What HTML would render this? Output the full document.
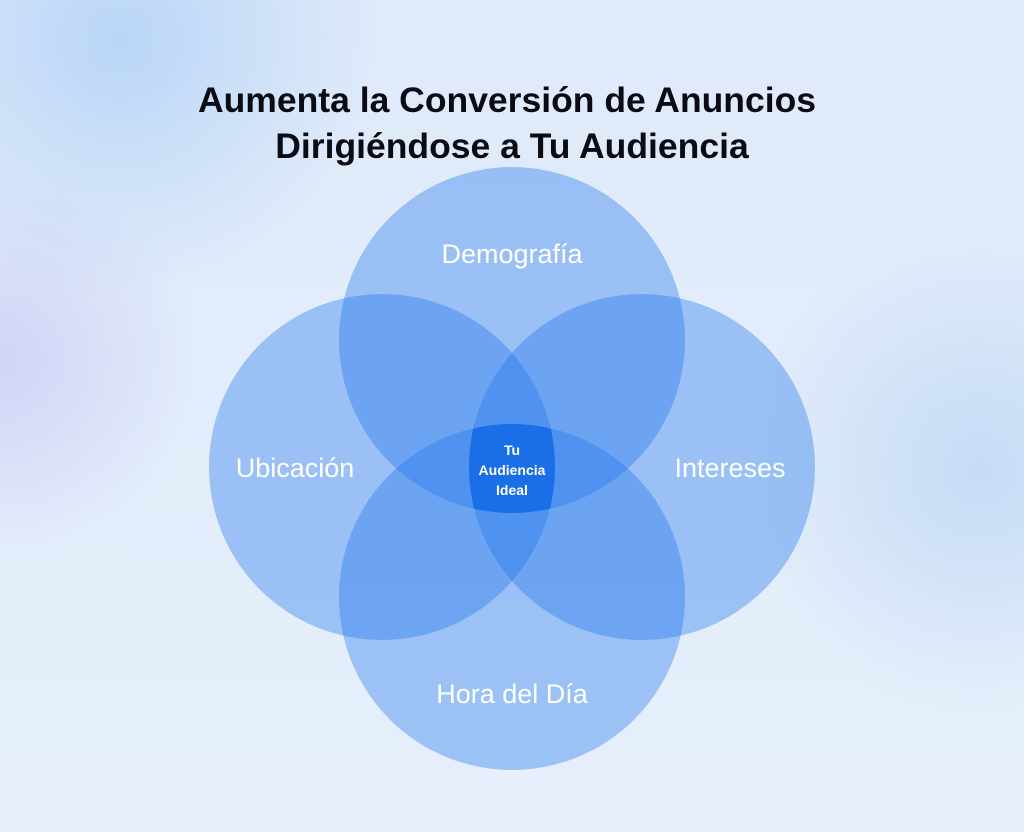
<!DOCTYPE html>
<html><head><meta charset="utf-8"><style>
html,body{margin:0;padding:0;}
body{width:1024px;height:832px;overflow:hidden;background:#e3edfa;position:relative;font-family:"Liberation Sans",sans-serif;}
.bg{position:absolute;inset:0;background:
radial-gradient(circle at 120px 40px,rgba(170,205,245,0.7),rgba(170,205,245,0) 260px),
radial-gradient(circle at 0px 360px,rgba(205,205,245,0.8),rgba(205,205,245,0) 200px),
radial-gradient(circle at 980px 470px,rgba(190,215,245,0.8),rgba(190,215,245,0) 240px),
linear-gradient(180deg,#dfeafa,#e6effb);}
svg{position:absolute;left:0;top:0;}
</style></head><body><div class="bg"></div>
<svg width="1024" height="832" viewBox="0 0 1024 832">
<defs>
<clipPath id="ct"><circle cx="512" cy="340" r="173"/></clipPath>
<clipPath id="cb"><circle cx="512" cy="597" r="173"/></clipPath>
<clipPath id="cl"><circle cx="382" cy="467" r="173"/></clipPath>
</defs>
<text x="507" y="112" text-anchor="middle" font-family="Liberation Sans" font-weight="bold" font-size="35.5" fill="#0b0b14">Aumenta la Conversión de Anuncios</text>
<text x="512" y="158" text-anchor="middle" font-family="Liberation Sans" font-weight="bold" font-size="35.5" fill="#0b0b14">Dirigiéndose a Tu Audiencia</text>
<g fill="rgb(30,118,236)" fill-opacity="0.37">
<circle cx="512" cy="340" r="173"/>
<circle cx="382" cy="467" r="173"/>
<circle cx="642" cy="467" r="173"/>
<circle cx="512" cy="597" r="173"/>
</g>
<g clip-path="url(#ct)"><g clip-path="url(#cb)"><g clip-path="url(#cl)">
<circle cx="642" cy="467" r="173" fill="#1a6fe6"/></g></g></g>
<g fill="#fff" font-family="Liberation Sans" font-size="27" text-anchor="middle">
<text x="512" y="263">Demografía</text>
<text x="295" y="477">Ubicación</text>
<text x="730" y="477">Intereses</text>
<text x="512" y="703">Hora del Día</text>
</g>
<g fill="#fff" font-family="Liberation Sans" font-weight="bold" font-size="14" text-anchor="middle">
<text x="512" y="455">Tu</text>
<text x="512" y="475">Audiencia</text>
<text x="512" y="495">Ideal</text>
</g>
</svg>
</body></html>
